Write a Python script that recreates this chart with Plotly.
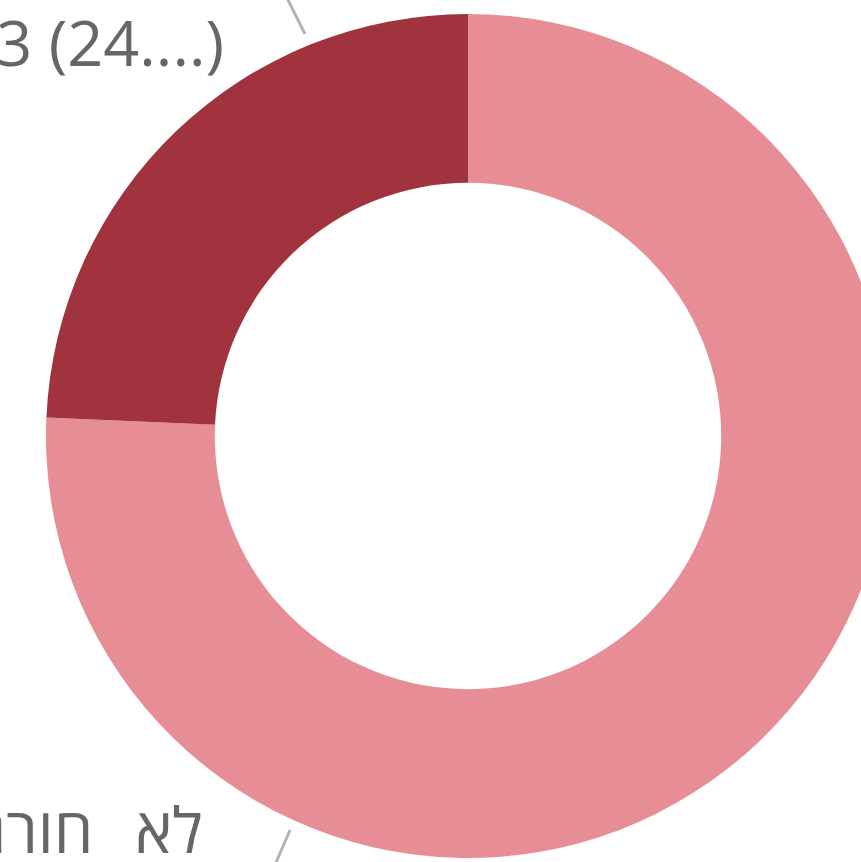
import plotly.graph_objects as go

# data
labels = ["לא חורג", "חורג"]
values = [75.7, 24.3]
label_texts = ["\u202Bלא\u2002\u2009חורג (75....)\u202C", "1-3 (24....)"]
colors = ["#E68D95", "#A0333D"]

W, H = 936, 872
CX, CY, R = 468, 436, 422

fig = go.Figure(go.Pie(
    labels=labels, values=values, sort=False, direction="clockwise", rotation=0,
    hole=0.6, marker=dict(colors=colors, line=dict(width=0)),
    textinfo="none", hoverinfo="label+percent", showlegend=False,
    domain=dict(x=[0, 1], y=[(CY - R) / H, (CY + R) / H]),
))

def px(x):
    return x / W

def py(y):
    return 1 - y / H

# label annotations
font = dict(family="Open Sans, Noto Sans, DejaVu Sans", size=63, color="#666666")
fig.add_annotation(x=px(226), y=py(42), xref="paper", yref="paper", text=label_texts[1],
                   showarrow=False, xanchor="right", yanchor="middle", font=font)
fig.add_annotation(x=px(205), y=py(828), xref="paper", yref="paper", text=label_texts[0],
                   showarrow=False, xanchor="right", yanchor="middle", font=font)

# leader lines
line = dict(color="#B4B4B4", width=3)
fig.add_shape(type="line", xref="paper", yref="paper", x0=px(305), y0=py(34), x1=px(280), y1=py(-16), line=line)
fig.add_shape(type="line", xref="paper", yref="paper", x0=px(290), y0=py(830), x1=px(272), y1=py(872), line=line)

fig.update_layout(width=W, height=H, margin=dict(l=0, r=0, t=0, b=0),
                  paper_bgcolor="white", plot_bgcolor="white")

fig.write_html("out.html", config={"displayModeBar": False},
               post_script="document.body.style.margin='0';document.body.style.overflow='hidden';")
